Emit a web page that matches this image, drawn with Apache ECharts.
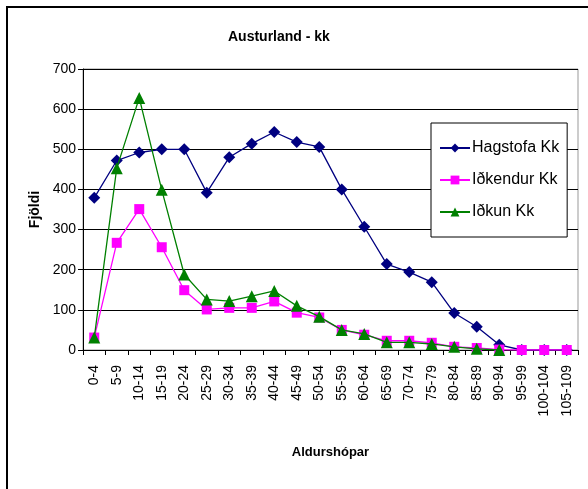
<!DOCTYPE html>
<html>
<head>
<meta charset="utf-8">
<script src="https://cdn.jsdelivr.net/npm/echarts@6/dist/echarts.min.js"></script>
<style>
  html, body { margin: 0; padding: 0; background: #fff; }
  #chart { width: 588px; height: 489px; }
</style>
</head>
<body>
<div id="chart"></div>
<script>
// aldurshópar
const categories = ['0-4', '5-9', '10-14', '15-19', '20-24', '25-29', '30-34', '35-39', '40-44', '45-49',
  '50-54', '55-59', '60-64', '65-69', '70-74', '75-79', '80-84', '85-89', '90-94', '95-99', '100-104', '105-109']

const hagstofa = [379, 472, 492, 500, 500, 392, 480, 514, 543, 518, 506, 400, 307, 214, 194, 169, 92, 58, 13, 0, 0, 0]
const idkendur = [31, 267, 351, 256, 149, 101, 105, 105, 121, 93, 81, 50, 38, 23, 23, 18, 8, 5, 1, 0, 0, 0]
const idkun = [31, 453, 628, 399, 188, 126, 122, 134, 147, 110, 83, 50, 40, 19, 19, 15, 8, 3, 0, null, null, null]

const yTicks = [0, 100, 200, 300, 400, 500, 600, 700]

const font = 'Liberation Sans, Arial, sans-serif'
const chart = echarts.init(document.getElementById('chart'))

chart.setOption({
  animation: false,
  backgroundColor: '#fff',
  title: {
    text: 'Austurland - kk',
    left: 223,
    top: 25,
    textStyle: { fontFamily: font, fontSize: 14, fontWeight: 'bold', color: '#000' },
  },
  graphic: [
    {
      type: 'rect',
      shape: { x: 7, y: 7, width: 700, height: 600 },
      style: { fill: 'none', stroke: '#000', lineWidth: 2 },
      silent: true,
    },
  ],
  legend: {
    orient: 'vertical',
    left: 431,
    top: 123,
    padding: [17, 8, 17, 8],
    itemGap: 16,
    itemWidth: 30,
    itemHeight: 11,
    backgroundColor: '#fff',
    borderColor: '#000',
    borderWidth: 1,
    borderRadius: 0,
    textStyle: { fontFamily: font, fontSize: 16, color: '#000', padding: [0, 0, 0, -3] },
    data: ['Hagstofa Kk', 'Iðkendur Kk', 'Iðkun Kk'],
  },
  grid: {
    left: 83,
    right: 10,
    top: 69,
    bottom: 139,
    show: true,
    borderColor: '#999',
    borderWidth: 1,
  },
  xAxis: {
    type: 'category',
    data: categories,
    boundaryGap: true,
    name: 'Aldurshópar',
    nameLocation: 'middle',
    nameGap: 96,
    nameTextStyle: { fontFamily: font, fontSize: 13, fontWeight: 'bold', color: '#000' },
    axisLine: { lineStyle: { color: '#000', width: 1 } },
    axisTick: { show: true, length: 5, alignWithLabel: false, lineStyle: { color: '#000' } },
    axisLabel: {
      rotate: 90,
      interval: 0,
      margin: 15,
      fontFamily: font,
      fontSize: 14,
      color: '#000',
    },
    splitLine: { show: false },
  },
  yAxis: {
    type: 'value',
    min: 0,
    max: 700,
    interval: 100,
    name: 'Fjöldi',
    nameLocation: 'middle',
    nameGap: 40,
    nameRotate: 90,
    nameTextStyle: { fontFamily: font, fontSize: 14, fontWeight: 'bold', color: '#000' },
    axisLine: { show: true, lineStyle: { color: '#000', width: 1 } },
    axisTick: { show: true, length: 5, lineStyle: { color: '#000' } },
    axisLabel: {
      margin: 7,
      fontFamily: font,
      fontSize: 14,
      color: '#000',
      formatter: (v) => (yTicks.includes(v) ? String(v) : ''),
    },
    splitLine: { show: true, lineStyle: { color: '#000', width: 1 } },
  },
  series: [
    {
      name: 'Hagstofa Kk',
      type: 'line',
      data: hagstofa,
      symbol: 'diamond',
      symbolSize: 12,
      itemStyle: { color: '#000080' },
      lineStyle: { color: '#000080', width: 1.3 },
      z: 2,
    },
    {
      name: 'Iðkendur Kk',
      type: 'line',
      data: idkendur,
      symbol: 'rect',
      symbolSize: 10,
      itemStyle: { color: '#ff00ff' },
      lineStyle: { color: '#ff00ff', width: 1.3 },
      z: 3,
    },
    {
      name: 'Iðkun Kk',
      type: 'line',
      data: idkun,
      symbol: 'triangle',
      symbolSize: 12,
      itemStyle: { color: '#008000' },
      lineStyle: { color: '#008000', width: 1.3 },
      z: 4,
    },
  ],
})
</script>
</body>
</html>
